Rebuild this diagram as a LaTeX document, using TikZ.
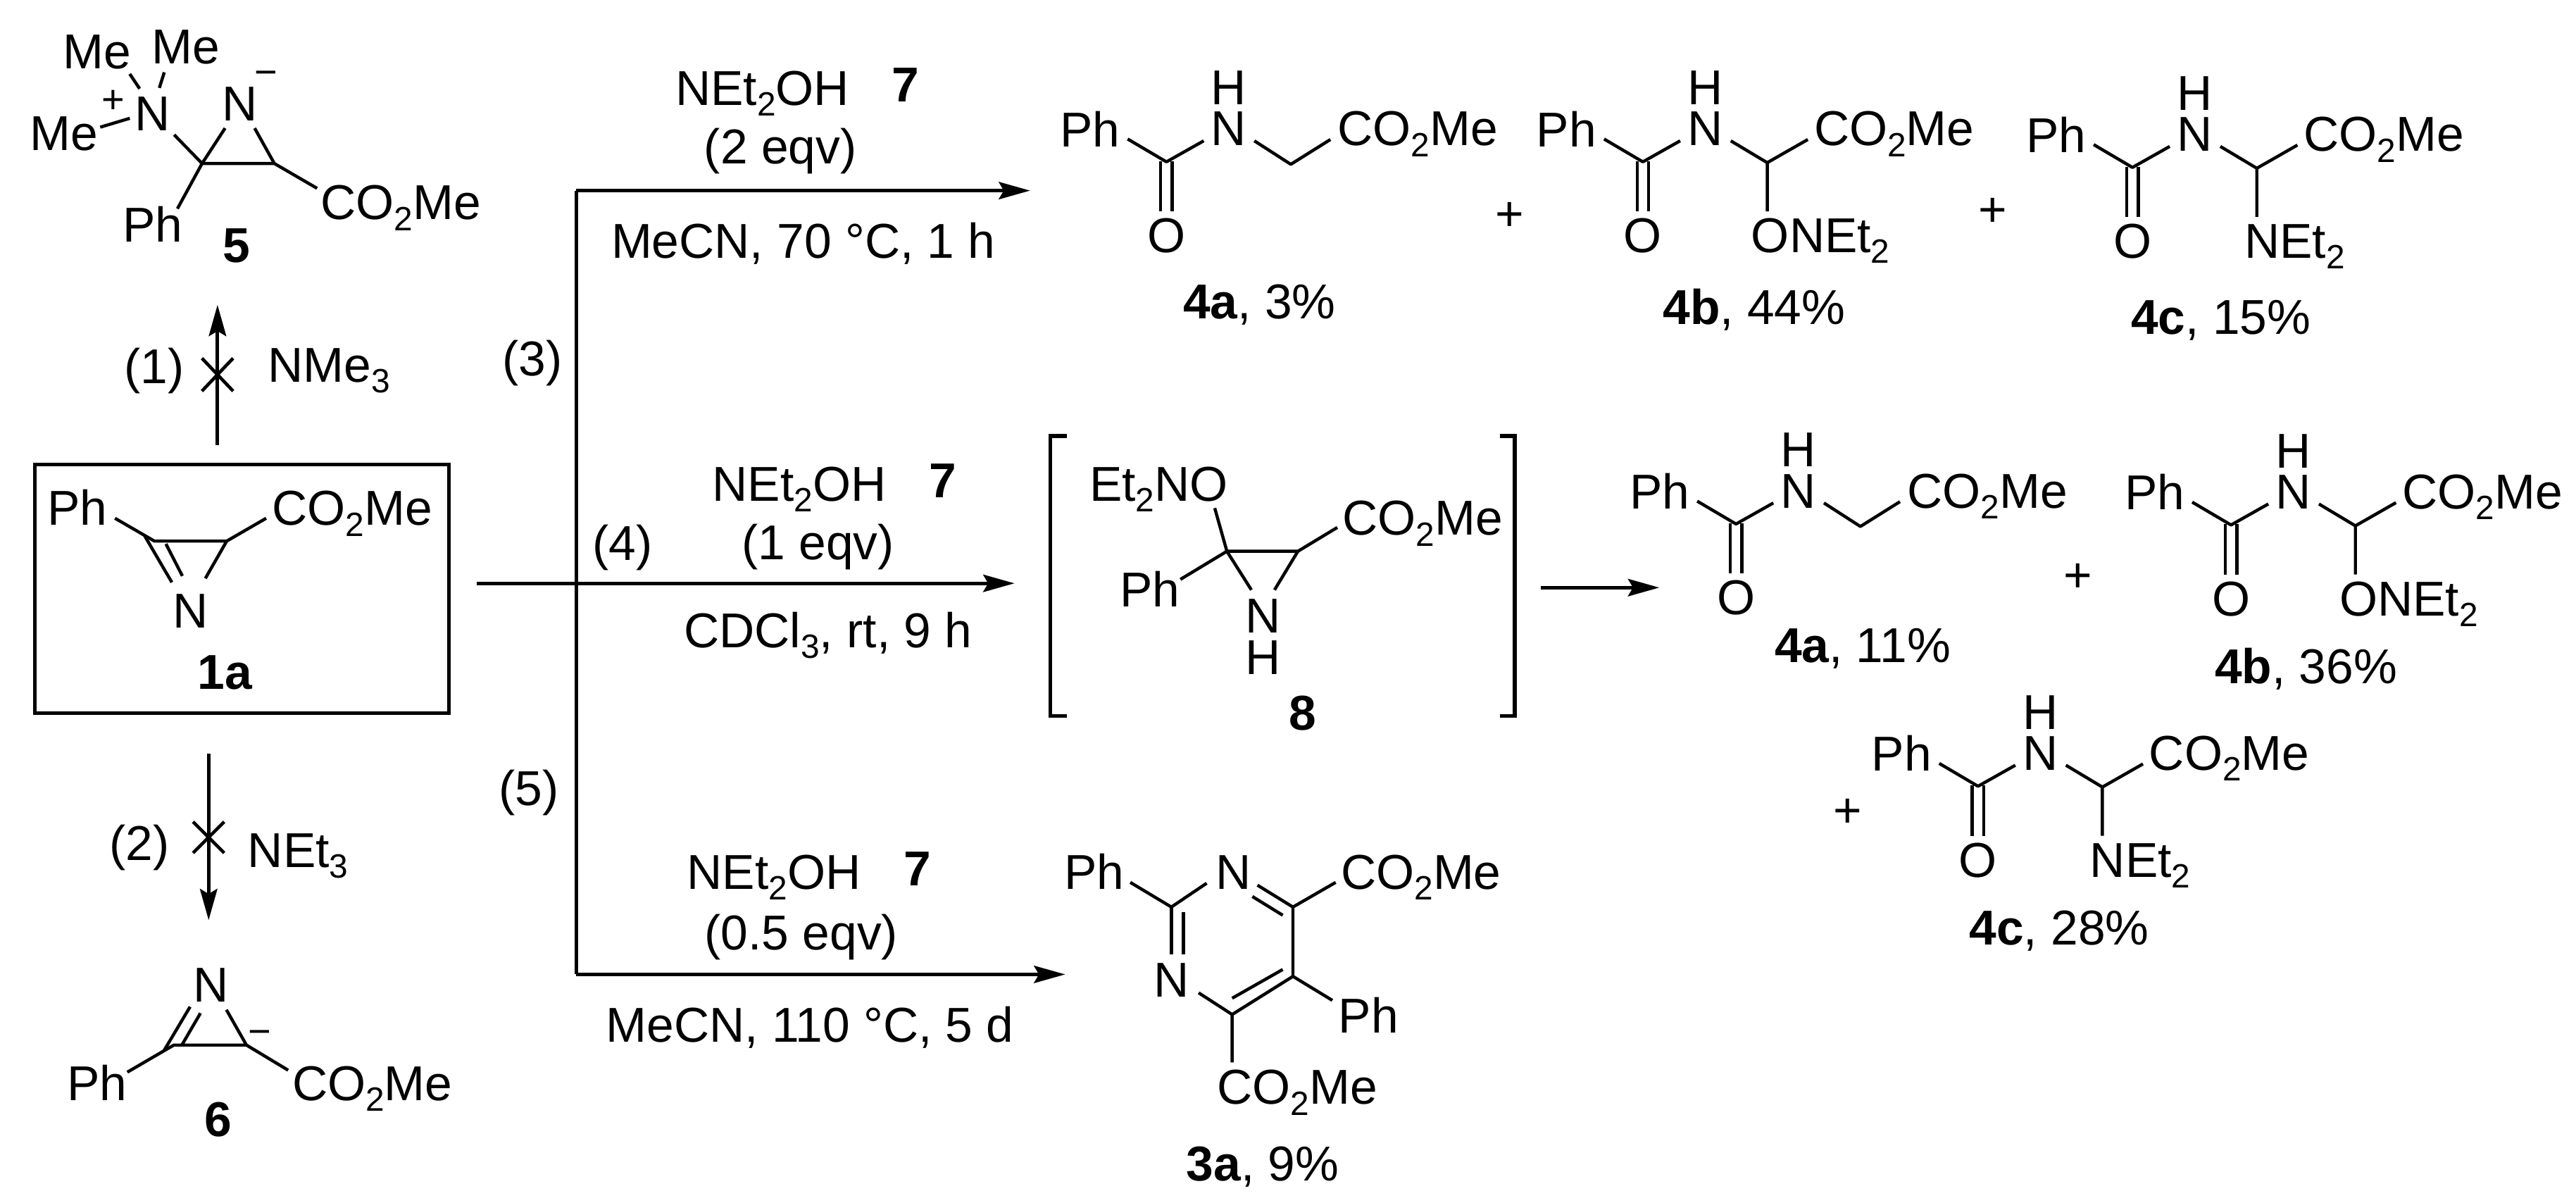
\documentclass[tikz,border=0pt]{standalone}
\usepackage{fontspec}
\setmainfont{Liberation Sans}
\usetikzlibrary{arrows.meta}
\newcommand\subs[1]{\raisebox{-6.5pt}{\fontsize{20.5}{20.5}\selectfont #1}}
\newcommand\fsz{\fontsize{29.8}{33}\selectfont}
\newcommand\cdme{CO\subs{2}Me}
\newcommand\nohreag{NEt\subs{2}OH\hspace{26pt}\raisebox{2pt}{\textbf{7}}}
\tikzset{
  every node/.style={font=\fsz,inner sep=0pt,text=black},
  lab/.style={anchor=base,yshift=-10.7pt},
  labw/.style={anchor=base west,yshift=-10.7pt},
  basew/.style={anchor=base west},
  basec/.style={anchor=base},
  chg/.style={anchor=base,font=\fontsize{24}{24}\selectfont},
  plusm/.style={anchor=base},
  bond/.style={line width=1.9pt,line join=round},
  frame/.style={line width=2.2pt,line join=miter},
  rxn/.style={line width=2.2pt,-{Stealth[length=19pt,width=10.5pt,inset=3pt]}},
  rule/.style={line width=2.2pt},
  crossmark/.style={line width=2pt}
}
% amide fragment: #1 prefix
\newcommand\amidecore[1]{
  \node[lab] (#1Ph) at (663.5,78.5) {Ph};
  \node[lab] (#1N) at (748,78) {N};
  \node[lab] (#1H) at (748,53) {H};
  \node[lab] (#1O) at (710,143) {O};
  \node[labw] (#1E) at (814,78) {\cdme};
  \draw[bond] (686.4,84.6) -- (710,98.5) -- (732.7,85.7);
  \draw[bond] (706.5,98) -- (706.5,128.6) (713.5,98) -- (713.5,128.6);
}
\begin{document}
\begin{tikzpicture}[x=1pt,y=-1pt]
\useasboundingbox (0,0) rectangle (1568,732);
\fill[white] (0,0) rectangle (1568,732);

% --- compound 5
\node[lab] (m5a) at (113,28) {Me};
\node[lab] (m5b) at (59,31) {Me};
\node[lab] (m5c) at (39,81) {Me};
\node[lab] (n5p) at (93,69) {N};
\node[chg] (p5) at (69,69) {+};
\node[lab] (n5m) at (146,63) {N};
\node[chg] (q5) at (162,52) {−};
\node[lab] (ph5) at (93,136.4) {Ph};
\node[labw] (e5) at (195,123) {\cdme};
\node[lab,font=\fsz\bfseries] (l5) at (144,149) {5};
\draw[bond] (85,54)--(79,45) (97,53.5)--(100,44) (79,72)--(61,77.4);
\draw[bond] (106,82)--(123,99.5) (108,127)--(123,99.5)--(137,78);
\draw[bond] (123,99.5)--(167,99.5)--(155,78) (167,99.5)--(193,114.6);

% --- arrow 1
\coordinate (a1s) at (132.4,270.7);
\coordinate (a1e) at (132.4,185.5);
\coordinate (x1) at (132.4,228);
\draw[rxn] (a1s) -- (a1e);
\draw[crossmark] ([shift={(-9.5,-10)}]x1) -- ([shift={(9.5,10)}]x1);
\draw[crossmark] ([shift={(9.5,-10)}]x1) -- ([shift={(-9.5,10)}]x1);
\node[lab] (t1) at (94,222.6) {(1)};
\node[basew] (r1) at (163,232.4) {NMe\subs{3}};

% --- box 1a
\node[draw,frame,anchor=north west,minimum width=252pt,minimum height=151.3pt] (box) at (20,281.7) {};
\node[lab] (ph1) at (47,309) {Ph};
\node[labw] (e1) at (165.4,309) {\cdme};
\node[lab] (n1) at (116,371.3) {N};
\node[lab,font=\fsz\bfseries] (l1) at (137,408.8) {1a};
\draw[bond] (70,315.4)--(94,329.3)--(138,329.3)--(162,315.4);
\draw[bond] (88,326)--(104.6,354.4) (101,331)--(111,350.5) (138,329.3)--(125,352);

% --- arrow 2
\coordinate (a2s) at (127,458.7);
\coordinate (a2e) at (127,560);
\coordinate (x2) at (127,509.6);
\draw[rxn] (a2s) -- (a2e);
\draw[crossmark] ([shift={(-9.5,-9.5)}]x2) -- ([shift={(9.5,9.5)}]x2);
\draw[crossmark] ([shift={(9.5,-9.5)}]x2) -- ([shift={(-9.5,9.5)}]x2);
\node[lab] (t2) at (85,513) {(2)};
\node[basew] (r2) at (150.6,527.8) {NEt\subs{3}};

% --- compound 6
\node[lab] (n6) at (128.4,599) {N};
\node[chg] (q6) at (158,636) {−};
\node[lab] (ph6) at (59,659) {Ph};
\node[labw] (e6) at (177.7,659) {\cdme};
\node[lab,font=\fsz\bfseries] (l6) at (133,681) {6};
\draw[bond] (99.7,639.6)--(115.7,612.7) (110.7,636)--(122,616.6);
\draw[bond] (77.5,652.5)--(105.8,636)--(150,636)--(137.8,614.5) (150,636)--(175.4,651.3);

% --- branching arrows
\coordinate (vt) at (350.8,116);
\coordinate (vb) at (350.8,593);
\coordinate (t3) at (627,116);
\coordinate (t5) at (648.4,593);
\coordinate (ms) at (290,355);
\coordinate (t4) at (617.5,355);
\draw[rule] (vb) -- (vt);
\draw[rxn] (vt) -- (t3);
\draw[rxn] (vb) -- (t5);
\draw[rxn] (ms) -- (t4);
\node[lab] (t3l) at (324,218) {(3)};
\node[basec] (t4l) at (379,341) {(4)};
\node[lab] (t5l) at (322,479.6) {(5)};

% --- conditions
\node[basew] (c3a) at (411,64) {\nohreag};
\node[basec] (c3b) at (475,99.7) {(2 eqv)};
\node[basec] (c3c) at (489,157) {MeCN, 70 °C, 1 h};
\node[basew] (c4a) at (433.5,305) {\nohreag};
\node[basec] (c4b) at (498,340.7) {(1 eqv)};
\node[basec] (c4c) at (504,394) {CDCl\subs{3}, rt, 9 h};
\node[basew] (c5a) at (418,541.2) {\nohreag};
\node[basec] (c5b) at (487.8,578) {(0.5 eqv)};
\node[basec] (c5c) at (493,634) {MeCN, 110 °C, 5 d};

% --- top products
\begin{scope}
  \amidecore{ta}
  \draw[bond] (763.5,85.7)--(785.7,100)--(809.8,84.9);
\end{scope}
\node[basew] (lta) at (720,194) {\textbf{4a}, 3\%};
\node[plusm] (pt1) at (919,140.4) {+};
\begin{scope}[shift={(290,0)}]
  \amidecore{tb}
  \draw[bond] (763.5,85.7)--(785.7,99)--(810.4,84.9) (785.7,99)--(785.7,128.6);
  \node[labw] (tbO) at (775.8,143) {ONEt\subs{2}};
\end{scope}
\node[basew] (ltb) at (1012,197.3) {\textbf{4b}, 44\%};
\node[plusm] (pt2) at (1213,138) {+};
\begin{scope}[shift={(588,3.4)}]
  \amidecore{tc}
  \draw[bond] (763.5,85.7)--(785.7,99)--(810.4,84.9) (785.7,99)--(785.7,128.6);
  \node[labw] (tcN) at (778,143) {NEt\subs{2}};
\end{scope}
\node[basew] (ltc) at (1297,203.3) {\textbf{4c}, 15\%};

% --- intermediate 8
\draw[frame] (649.4,265.3) -- (639.5,265.3) -- (639.5,435.7) -- (649.4,435.7);
\draw[frame] (912.8,265.3) -- (922,265.3) -- (922,435.7) -- (912.8,435.7);
\node[labw] (o8) at (663,294.4) {Et\subs{2}NO};
\node[labw] (e8) at (817,315) {\cdme};
\node[lab] (ph8) at (700,358.7) {Ph};
\node[lab] (n8) at (769,374.5) {N};
\node[lab] (h8) at (769,399.7) {H};
\node[lab,font=\fsz\bfseries] (l8) at (793,433.5) {8};
\draw[bond] (739.4,309.2)--(746.8,335.5)--(718.5,352.6) (746.8,335.5)--(761.7,359);
\draw[bond] (746.8,335.5)--(790,335.5)--(775.8,359) (790,335.5)--(814,321);
\coordinate (a8s) at (938,357.6);
\coordinate (a8e) at (1010,357.6);
\draw[rxn] (a8s) -- (a8e);

% --- middle products
\begin{scope}[shift={(346.7,220.4)}]
  \amidecore{ma}
  \draw[bond] (763.5,85.7)--(785.7,100)--(809.8,84.9);
\end{scope}
\node[basew] (lma) at (1080,403) {\textbf{4a}, 11\%};
\node[plusm] (pm1) at (1265,360.2) {+};
\begin{scope}[shift={(648,221)}]
  \amidecore{mb}
  \draw[bond] (763.5,85.7)--(785.7,99)--(810.4,84.9) (785.7,99)--(785.7,128.6);
  \node[labw] (mbO) at (775.8,143) {ONEt\subs{2}};
\end{scope}
\node[basew] (lmb) at (1348,416) {\textbf{4b}, 36\%};
\node[plusm] (pm2) at (1124.5,503.6) {+};
\begin{scope}[shift={(494,380)}]
  \amidecore{mc}
  \draw[bond] (763.5,85.7)--(785.7,99)--(810.4,84.9) (785.7,99)--(785.7,128.6);
  \node[labw] (mcN) at (778,143) {NEt\subs{2}};
\end{scope}
\node[basew] (lmc) at (1198.5,575) {\textbf{4c}, 28\%};

% --- 3a
\node[lab] (ph3) at (666,530.4) {Ph};
\node[lab] (n3a) at (751,530.4) {N};
\node[labw] (e3a) at (816,530.4) {\cdme};
\node[lab] (n3b) at (713,596) {N};
\node[lab] (ph3b) at (833,617.8) {Ph};
\node[labw] (e3b) at (740.7,661.4) {\cdme};
\node[basew] (l3) at (722,718.6) {\textbf{3a}, 9\%};
\draw[bond] (688,537)--(713,552)--(734.5,537.5);
\draw[bond] (713,552)--(713,581) (720.3,555)--(720.3,581);
\draw[bond] (765.4,538.7)--(787,552)--(813,537) (762.3,545.6)--(780.8,557);
\draw[bond] (787,552)--(787,594.2)--(750,617.4)--(729.6,604.2);
\draw[bond] (780.8,590)--(750,607.5) (787,594.2)--(811,608.8) (750,617.4)--(750,646.5);
\end{tikzpicture}
\end{document}
